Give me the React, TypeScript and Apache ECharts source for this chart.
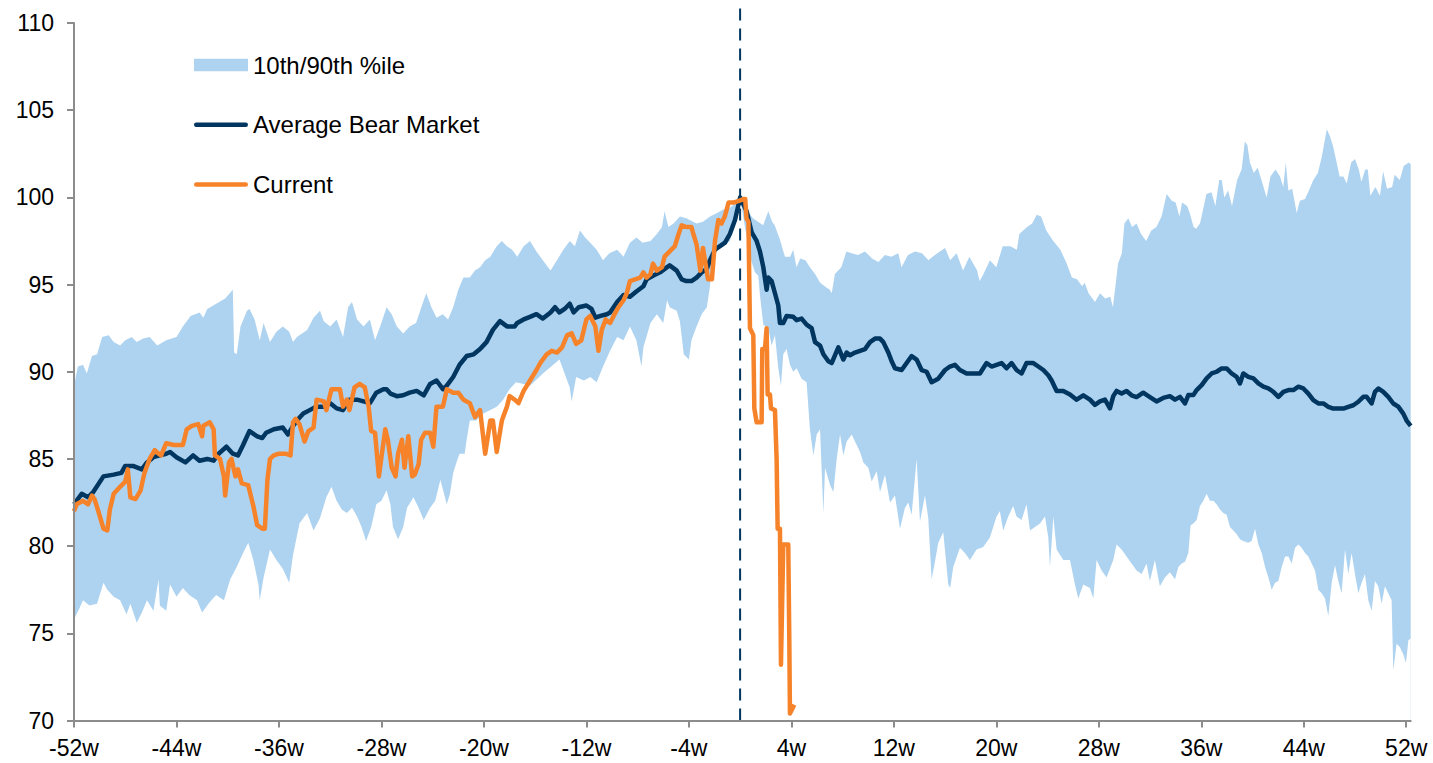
import React, { useEffect, useRef } from "react";
import * as echarts from "echarts";

const FONT = "'Liberation Sans', Arial, Helvetica, sans-serif";
const BAND = "#aed3f0";
const NAVY = "#003660";
const ORANGE = "#f6832a";
const AXIS = "#8c8c8c";

const xTickWeeks = [-52, -44, -36, -28, -20, -12, -4, 4, 12, 20, 28, 36, 44, 52];
const yMin = 70;
const yMax = 110;
const yStep = 5;
const peakWeek = 0;
const legendNames = ["10th/90th %ile", "Average Bear Market", "Current"];

const upperBand: [number, number][] = [
  [-52, 89.2], [-51.7, 90.3], [-51.3, 90.4], [-51.0, 89.9], [-50.6, 90.9], [-50.2, 91.0], [-49.8, 92.0], [-49.3, 92.1], [-48.9, 91.7], [-48.4, 91.5], [-48.0, 91.8], [-47.5, 92.0], [-47.1, 91.7], [-46.6, 91.9], [-46.1, 92.0], [-45.5, 91.5], [-44.8, 91.8], [-44.0, 92.0], [-43.5, 92.6], [-42.9, 93.2], [-42.2, 93.4], [-41.9, 93.1], [-41.6, 93.6], [-40.9, 93.9], [-40.2, 94.2], [-39.6, 94.7], [-39.5, 91.1], [-39.3, 91.0], [-39.0, 92.6], [-38.5, 93.5], [-38.3, 93.6], [-37.9, 93.0], [-37.5, 91.8], [-37.2, 92.8], [-36.7, 91.7], [-36.2, 92.3], [-35.7, 92.6], [-35.2, 92.3], [-34.9, 91.7],
  [-34.6, 92.0], [-33.8, 92.4], [-33.3, 93.1], [-32.8, 93.5], [-32.5, 92.9], [-32.0, 92.6], [-31.5, 93.0], [-31.0, 92.0], [-30.6, 93.7], [-30.3, 94.0], [-29.9, 93.0], [-29.4, 92.6], [-28.9, 93.0], [-28.5, 91.8], [-28.1, 92.6], [-27.6, 93.7], [-27.2, 93.3], [-26.8, 92.6], [-26.3, 92.2], [-25.8, 92.6], [-25.3, 92.8], [-24.7, 94.1], [-24.5, 94.5], [-24.1, 93.7], [-23.7, 93.1], [-23.2, 93.3], [-22.8, 93.0], [-22.4, 93.7], [-22.0, 94.7], [-21.6, 95.4], [-21.1, 95.4], [-20.7, 95.8], [-20.3, 96.0], [-19.9, 96.4], [-19.5, 96.6], [-19.0, 97.2], [-18.6, 97.5], [-18.2, 97.2], [-17.8, 97.0],
  [-17.4, 96.6], [-16.9, 97.2], [-16.4, 97.5], [-15.9, 96.9], [-15.4, 96.4], [-14.8, 95.8], [-14.3, 96.4], [-13.8, 97.0], [-13.3, 97.5], [-12.9, 97.2], [-12.5, 98.1], [-12.1, 97.7], [-11.7, 97.4], [-11.2, 97.0], [-10.7, 96.4], [-10.2, 96.8], [-9.6, 97.0], [-9.1, 96.6], [-8.6, 97.4], [-8.1, 97.7], [-7.6, 97.4], [-7.0, 97.5], [-6.5, 97.9], [-6.1, 98.3], [-5.9, 99.2], [-5.6, 98.3], [-5.2, 98.5], [-4.7, 98.9], [-4.2, 98.8], [-3.4, 98.5], [-2.9, 98.6], [-2.35, 98.9], [-1.8, 99.1], [-1.3, 99.3], [-0.8, 99.4], [-0.3, 99.7], [0, 100],
  [0.1, 99.7], [0.6, 99.2], [1.0, 98.8], [1.4, 98.6], [1.8, 98.4], [2.1, 99.0], [2.2, 99.2], [2.5, 98.6], [2.7, 98.4], [3.1, 97.6], [3.5, 96.6], [3.9, 96.6], [4.15, 97.0], [4.4, 96.0], [4.7, 96.5], [5.1, 96.4], [5.45, 96.0], [5.85, 95.6], [6.25, 95.1], [6.6, 94.9], [7.0, 94.7], [7.15, 94.5], [7.4, 95.6], [7.9, 96.0], [8.3, 96.9], [8.7, 96.8], [9.2, 96.7], [9.75, 96.9], [10.3, 96.5], [10.8, 96.3], [11.3, 96.7], [11.8, 96.6], [12.35, 96.8], [12.6, 96.0], [13.1, 96.7], [13.65, 96.9], [14.2, 96.8], [14.7, 96.4], [15.2, 96.7], [16.0, 97.1], [16.4, 96.4],
  [16.9, 96.8], [17.4, 95.8], [17.9, 96.6], [18.5, 95.8], [18.7, 95.2], [19.0, 95.6], [19.5, 96.4], [20.0, 96.0], [20.5, 97.2], [21.1, 97.2], [21.6, 97.0], [21.8, 97.9], [22.4, 98.3], [22.8, 98.5], [23.15, 99.0], [23.5, 98.9], [23.9, 98.1], [24.45, 97.5], [25.0, 97.0], [25.5, 96.2], [25.9, 95.4], [26.3, 95.3], [26.7, 94.9], [26.9, 95.1], [27.2, 94.5], [27.4, 94.3], [27.7, 94.0], [28.1, 94.5], [28.5, 94.2], [28.9, 94.3], [29.1, 93.7], [29.3, 94.9], [29.5, 96.2], [29.8, 96.8], [30.0, 98.5], [30.3, 98.8], [30.6, 98.3], [30.95, 98.5], [31.3, 97.9], [31.7, 97.5], [32.1, 98.1], [32.5, 98.3], [32.9, 98.9], [33.3, 100.2], [33.7, 99.8],
  [34.0, 99.7], [34.3, 98.9], [34.5, 99.7], [34.9, 99.5], [35.1, 99.1], [35.4, 98.3], [35.6, 98.2], [35.9, 98.5], [36.2, 99.5], [36.4, 100.2], [36.8, 100.3], [37.1, 99.5], [37.4, 101.0], [37.6, 101.0], [37.8, 100.0], [38.1, 100.4], [38.4, 99.5], [38.8, 101.0], [39.15, 101.6], [39.4, 103.2], [39.6, 103.0], [39.8, 102.0], [40.1, 101.4], [40.4, 101.7], [40.7, 101.0], [41.1, 100.0], [41.4, 101.2], [41.8, 101.6], [42.15, 101.2], [42.4, 100.6], [42.6, 102.0], [42.8, 100.4], [43.1, 100.5], [43.45, 99.1], [43.7, 99.8], [44.1, 99.9], [44.4, 100.4], [44.75, 101.0], [45.1, 101.4], [45.4, 102.3], [45.7, 103.5], [45.8, 103.9], [46.05, 103.5], [46.3, 102.9], [46.6, 101.9], [46.8, 101.2], [47.1, 101.2], [47.35, 100.8], [47.7, 102.0], [48.0, 102.2], [48.3, 101.6], [48.5, 100.9], [48.8, 101.6], [49.0, 101.6], [49.2, 100.1], [49.6, 100.6], [49.95, 100.1], [50.2, 101.5], [50.5, 100.5], [50.9, 100.6], [51.1, 101.3], [51.5, 101.0], [51.8, 101.8], [52.2, 102.0], [52.35, 101.9],
];

const lowerBand: [number, number][] = [
  [-52, 75.8], [-51.6, 76.4], [-51.3, 76.9], [-50.8, 76.6], [-50.2, 76.7], [-49.7, 77.9], [-49.4, 77.5], [-48.9, 77.1], [-48.4, 76.9], [-47.9, 76.1], [-47.6, 76.7], [-47.1, 75.6], [-46.7, 76.2], [-46.3, 76.9], [-45.8, 76.3], [-45.4, 78.1], [-45.3, 76.6], [-44.8, 76.3], [-44.5, 77.8], [-44.0, 77.1], [-43.5, 77.6], [-43.0, 77.2], [-42.4, 76.9], [-42.0, 76.2], [-41.4, 76.8], [-40.9, 77.2], [-40.3, 76.9], [-39.8, 78.1], [-39.3, 78.8], [-38.8, 79.6], [-38.4, 80.2], [-38.0, 79.2], [-37.6, 77.8], [-37.5, 76.9], [-37.2, 78.2], [-36.7, 79.8], [-36.2, 79.2], [-35.7, 78.7], [-35.2, 77.9], [-34.9, 79.5],
  [-34.4, 81.3], [-33.8, 81.9], [-33.3, 80.9], [-32.8, 81.6], [-32.3, 82.8], [-31.9, 83.4], [-31.5, 82.6], [-31.1, 82.1], [-30.7, 81.9], [-30.3, 82.2], [-29.9, 81.7], [-29.55, 81.1], [-29.2, 80.3], [-28.8, 81.1], [-28.4, 82.4], [-28.0, 82.6], [-27.6, 83.2], [-27.3, 82.4], [-27.1, 81.1], [-26.7, 80.4], [-26.3, 81.1], [-26.0, 82.2], [-25.5, 82.8], [-25.1, 82.2], [-24.7, 81.5], [-24.2, 82.2], [-23.8, 82.6], [-23.4, 83.8], [-22.9, 82.4], [-22.65, 83.0], [-22.4, 84.2], [-22.1, 84.9], [-21.9, 85.3], [-21.5, 85.3], [-21.35, 86.1], [-21.1, 87.2], [-20.6, 87.2], [-20.05, 87.6], [-19.5, 87.8], [-19.0, 88.0], [-18.5, 88.4], [-18.0, 89.0],
  [-17.5, 89.4], [-16.9, 89.3], [-16.4, 89.2], [-15.4, 89.9], [-14.1, 90.7], [-13.3, 89.1], [-13.15, 88.3], [-12.8, 89.7], [-12.2, 89.5], [-11.7, 89.7], [-11.2, 89.4], [-10.7, 90.3], [-10.15, 91.2], [-9.6, 92.0], [-9.1, 91.8], [-8.6, 92.6], [-8.1, 91.8], [-7.7, 90.3], [-7.55, 91.4], [-7.0, 92.8], [-6.5, 93.3], [-6.0, 92.8], [-5.7, 94.1], [-5.5, 93.7], [-4.95, 93.5], [-4.7, 92.9], [-4.4, 91.0], [-4.0, 90.7], [-3.8, 91.8], [-3.4, 92.6], [-3.0, 93.3], [-2.6, 93.7], [-2.35, 94.9], [-2.2, 96.6], [-1.8, 97.0], [-1.3, 97.2], [-0.8, 97.5], [-0.3, 98.9], [0, 100],
  [0.4, 98.2], [0.9, 96.3], [1.16, 95.7], [1.42, 95.5], [1.55, 94.4], [1.81, 92.7], [2.2, 92.5], [2.46, 91.5], [2.72, 92.1], [2.98, 90.2], [3.19, 89.2], [3.37, 91.0], [3.63, 91.3], [3.89, 90.4], [4.15, 90.0], [4.41, 90.2], [4.8, 89.6], [5.19, 89.4], [5.45, 86.7], [5.72, 85.2], [5.98, 86.4], [6.24, 86.7], [6.5, 81.9], [6.63, 84.5], [7.02, 83.5], [7.28, 83.1], [7.54, 85.0], [7.8, 86.4], [8.06, 85.2], [8.32, 86.0], [8.71, 86.4], [9.1, 85.8], [9.36, 85.4], [9.62, 84.8], [10.01, 84.5], [10.27, 83.7], [10.66, 84.3], [10.92, 83.1], [11.31, 84.1], [11.7, 82.5], [12.09, 82.9], [12.48, 81.0], [12.87, 82.2], [13.13, 82.5], [13.39, 81.8], [13.78, 85.0], [14.04, 81.4], [14.43, 82.9], [14.69, 81.6], [14.95, 78.1], [15.21, 79.1], [15.47, 80.2], [15.86, 80.8], [16.25, 77.8], [16.4, 77.6], [16.64, 78.8],
  [17.16, 79.9], [17.55, 79.6], [17.94, 79.2], [18.46, 79.8], [18.98, 79.95], [19.5, 80.5], [20.02, 81.7], [20.28, 82.0], [20.54, 80.9], [20.93, 81.7], [21.32, 82.3], [21.58, 81.7], [21.97, 81.5], [22.36, 82.4], [22.63, 80.9], [23.02, 81.1], [23.41, 81.3], [23.8, 81.7], [24.06, 80.5], [24.19, 78.8], [24.45, 81.7], [24.71, 79.8], [25.23, 79.2], [25.75, 79.2], [26.14, 77.8], [26.4, 77.0], [26.79, 77.8], [27.31, 77.6], [27.57, 77.0], [27.83, 79.2], [28.22, 78.6], [28.61, 78.2], [29.13, 79.2], [29.39, 80.1], [29.78, 79.8], [30.17, 79.4], [30.56, 79.0], [30.95, 78.6], [31.34, 78.4], [31.73, 79.0], [31.99, 78.0], [32.38, 79.2], [32.77, 77.7], [33.16, 78.2], [33.55, 78.5],
  [33.95, 78.1], [34.21, 78.8], [34.47, 79.0], [34.73, 79.1], [34.99, 79.6], [35.17, 81.2], [35.38, 81.3], [35.64, 81.5], [35.9, 82.3], [36.16, 82.6], [36.42, 83.0], [36.68, 82.6], [36.94, 82.6], [37.2, 82.4], [37.46, 82.1], [37.72, 81.9], [37.98, 81.8], [38.24, 81.1], [38.5, 80.9], [38.76, 80.7], [39.02, 80.4], [39.28, 80.3], [39.67, 80.2], [39.93, 80.3], [40.2, 81.0], [40.46, 80.1], [40.72, 79.6], [40.98, 78.8], [41.24, 78.2], [41.5, 77.5], [41.76, 77.9], [42.02, 78.0], [42.28, 78.8], [42.54, 79.4], [42.8, 79.4], [43.06, 79.0], [43.32, 79.9], [43.58, 80.1], [43.84, 79.9], [44.1, 79.6], [44.36, 79.4], [44.62, 79.0], [44.88, 78.6], [45.14, 77.5], [45.4, 77.3], [45.66, 77.0], [45.92, 76.0], [46.18, 77.9], [46.44, 78.9], [46.7, 78.0], [46.96, 77.3], [47.22, 79.8], [47.48, 78.4], [47.74, 79.6], [48.0, 78.4], [48.26, 77.3], [48.52, 77.9], [48.78, 78.4], [49.04, 76.9], [49.3, 76.3], [49.56, 78.0], [49.82, 77.7], [50.08, 76.7], [50.34, 77.7], [50.6, 77.3], [50.86, 76.9], [50.99, 72.9], [51.25, 74.4], [51.51, 74.2], [51.77, 73.8], [51.98, 73.3], [52.17, 74.6], [52.35, 74.7],
];

const averageBear: [number, number][] = [
  [-52, 82.4], [-51.4, 83.0], [-50.9, 82.8], [-50.5, 83.1], [-49.7, 84.0], [-48.9, 84.1], [-48.3, 84.2], [-48.0, 84.6], [-47.4, 84.6], [-46.7, 84.4], [-46.3, 84.8], [-45.8, 85.1], [-45.3, 85.2], [-44.8, 85.3], [-44.5, 85.4], [-44.0, 85.1], [-43.3, 84.8], [-42.7, 85.2], [-42.2, 84.9], [-41.6, 85.0], [-41.1, 84.9], [-40.7, 85.3], [-40.1, 85.7], [-39.6, 85.3], [-39.2, 85.2], [-38.8, 85.8], [-38.3, 86.6], [-37.7, 86.3], [-37.3, 86.2], [-37.0, 86.5], [-36.4, 86.7], [-35.7, 86.8], [-35.3, 86.4], [-34.9, 86.9], [-34.6, 87.2], [-34.1, 87.6], [-33.6, 87.8], [-33.1, 88.0], [-32.5, 88.0], [-32.0, 88.2], [-31.5, 87.9], [-31.0, 87.8], [-30.5, 88.4], [-29.9, 88.4], [-29.4, 88.3], [-28.9, 88.2], [-28.4, 88.8], [-27.85, 89.0], [-27.6, 89.0], [-27.3, 88.75], [-26.8, 88.6], [-26.3, 88.65], [-25.8, 88.8], [-25.25, 88.9], [-24.7, 88.65], [-24.2, 89.3], [-23.7, 89.5], [-23.2, 89.0], [-22.9, 89.2], [-22.4, 89.7], [-21.9, 90.4], [-21.35, 90.9], [-20.8, 91.0], [-20.3, 91.3], [-19.8, 91.7], [-19.3, 92.4], [-18.75, 92.9], [-18.2, 92.6], [-17.6, 92.6],
  [-17.4, 92.8], [-16.9, 93.0], [-16.4, 93.15], [-15.9, 93.3], [-15.4, 93.05], [-14.8, 93.4], [-14.45, 93.7], [-14.1, 93.4], [-13.7, 93.6], [-13.3, 93.9], [-13.0, 93.4], [-12.6, 93.7], [-12.0, 93.8], [-11.6, 93.6], [-11.3, 93.1], [-10.9, 93.2], [-10.4, 93.3], [-10.15, 93.4], [-9.6, 94.0], [-9.1, 94.4], [-8.6, 94.3], [-8.1, 94.6], [-7.55, 94.9], [-7.3, 95.3], [-6.8, 95.5], [-6.25, 95.7], [-5.7, 96.0], [-5.5, 96.1], [-4.95, 95.8], [-4.56, 95.3], [-4.2, 95.2], [-3.8, 95.2], [-3.4, 95.4], [-3.0, 95.7], [-2.6, 95.9], [-2.35, 96.4], [-1.96, 97.0], [-1.57, 97.2], [-1.18, 97.4], [-0.8, 97.9], [-0.4, 98.7], [-0.15, 99.5], [0, 100],
  [0.51, 99.2], [0.9, 98.0], [1.29, 97.5], [1.55, 96.9], [1.81, 96.0], [2.07, 94.7], [2.2, 95.4], [2.46, 95.2], [2.72, 94.5], [2.98, 93.8], [3.11, 92.8], [3.37, 92.8], [3.63, 93.2], [4.15, 93.15], [4.41, 92.96], [4.8, 93.05], [5.19, 92.7], [5.58, 92.5], [5.85, 91.7], [6.24, 91.5], [6.5, 91.0], [6.89, 90.6], [7.15, 90.5], [7.41, 90.95], [7.67, 91.4], [8.06, 90.7], [8.32, 91.1], [8.58, 90.95], [8.97, 91.1], [9.36, 91.2], [9.75, 91.3], [10.14, 91.7], [10.53, 91.9], [10.92, 91.9], [11.18, 91.7], [11.57, 91.1], [11.83, 90.6], [12.09, 90.2], [12.61, 90.1], [13.0, 90.5], [13.39, 90.9], [13.78, 90.7], [14.17, 90.1], [14.56, 90.0], [14.95, 89.4], [15.47, 89.6], [16.0, 90.1], [16.38, 90.3], [16.77, 90.4], [17.16, 90.1], [17.68, 89.9], [18.2, 89.9], [18.72, 89.9], [18.98, 90.2], [19.24, 90.5], [19.63, 90.3], [20.02, 90.4], [20.41, 90.5], [20.8, 90.2], [21.19, 90.5], [21.58, 90.1], [21.97, 89.9], [22.36, 90.5], [22.89, 90.5], [23.28, 90.3], [23.67, 90.1], [24.06, 89.8], [24.32, 89.5], [24.71, 88.9], [25.23, 88.9], [25.75, 88.7], [26.27, 88.4], [26.79, 88.65], [27.31, 88.4], [27.7, 88.1], [28.09, 88.3], [28.48, 88.4], [28.87, 87.9], [29.13, 88.6], [29.39, 88.9], [29.78, 88.75], [30.17, 88.9], [30.56, 88.65], [30.95, 88.55], [31.47, 88.8], [31.99, 88.55], [32.51, 88.3], [33.03, 88.5], [33.55, 88.6],
  [33.95, 88.4], [34.34, 88.56], [34.73, 88.18], [34.99, 88.66], [35.38, 88.66], [35.64, 88.95], [36.03, 89.23], [36.42, 89.62], [36.81, 89.9], [37.2, 90.0], [37.59, 90.19], [37.98, 90.19], [38.37, 89.9], [38.76, 89.71], [39.02, 89.33], [39.28, 89.9], [39.67, 89.71], [40.07, 89.62], [40.46, 89.33], [40.85, 89.14], [41.24, 89.04], [41.63, 88.85], [42.02, 88.56], [42.41, 88.85], [42.8, 88.95], [43.19, 88.95], [43.58, 89.14], [43.97, 89.04], [44.36, 88.75], [44.75, 88.37], [45.14, 88.18], [45.53, 88.18], [45.92, 87.99], [46.31, 87.89], [46.7, 87.89], [47.09, 87.89], [47.48, 87.99], [47.87, 88.08], [48.26, 88.28], [48.65, 88.56], [48.91, 88.56], [49.3, 88.18], [49.56, 88.85], [49.82, 89.04], [50.21, 88.85], [50.6, 88.56], [50.99, 88.18], [51.38, 88.0], [51.77, 87.6], [52.03, 87.2], [52.35, 86.9],
];

const current: [number, number][] = [
  [-52, 82.0], [-51.8, 82.4], [-51.3, 82.6], [-50.9, 82.4], [-50.6, 82.9], [-50.4, 82.7], [-50.1, 82.0], [-49.7, 81.0], [-49.4, 80.9], [-49.2, 82.1], [-48.9, 83.0], [-48.4, 83.4], [-48.0, 83.7], [-47.8, 84.4], [-47.6, 82.8], [-47.2, 82.7], [-46.8, 83.2], [-46.5, 84.2], [-46.1, 85.0], [-45.7, 85.5], [-45.4, 85.3], [-45.2, 85.2], [-44.8, 85.9], [-44.2, 85.8], [-43.5, 85.8], [-43.2, 86.7], [-42.8, 86.9], [-42.3, 87.0], [-42.0, 86.3], [-41.9, 86.9], [-41.4, 87.1], [-41.1, 86.7], [-41.0, 85.2], [-40.6, 85.0], [-40.3, 84.0], [-40.2, 82.9], [-39.9, 84.8], [-39.7, 85.0], [-39.4, 84.0], [-39.2, 84.4], [-38.9, 83.6], [-38.4, 83.5], [-38.0, 82.3], [-37.7, 81.2], [-37.3, 81.0], [-37.1, 81.0], [-36.9, 83.8], [-36.7, 85.0], [-36.4, 85.2], [-36.0, 85.3], [-35.5, 85.3], [-35.1, 85.2], [-34.9, 87.1], [-34.7, 87.3],
  [-34.4, 87.0], [-34.0, 86.0], [-33.7, 86.6], [-33.3, 86.8], [-33.06, 88.4], [-32.5, 88.3], [-32.3, 87.8], [-31.9, 89.0], [-31.24, 89.0], [-31.0, 88.0], [-30.7, 88.4], [-30.5, 87.8], [-30.1, 89.1], [-29.7, 89.3], [-29.3, 89.1], [-29.0, 88.0], [-28.8, 86.6], [-28.5, 86.5], [-28.2, 84.0], [-28.0, 85.1], [-27.7, 86.7], [-27.5, 86.1], [-27.2, 84.5], [-26.9, 84.0], [-26.7, 85.3], [-26.4, 86.1], [-26.2, 84.5], [-25.9, 86.3], [-25.6, 84.0], [-25.4, 84.1], [-25.1, 84.7], [-24.9, 86.1], [-24.6, 86.5], [-24.2, 86.5], [-23.95, 85.7], [-23.7, 88.0], [-23.2, 88.0], [-22.9, 89.0], [-22.4, 88.8], [-22.0, 88.8], [-21.6, 88.4], [-21.1, 88.2], [-20.7, 87.4], [-20.3, 87.8], [-19.9, 85.3], [-19.5, 87.2], [-19.3, 87.2], [-19.0, 85.4], [-18.6, 87.2], [-18.2, 88.0], [-18.0, 88.6], [-17.6, 88.4],
  [-17.3, 88.2], [-16.9, 88.9], [-16.4, 89.5], [-15.9, 90.1], [-15.6, 90.5], [-15.1, 91.0], [-14.7, 91.2], [-14.3, 91.1], [-13.9, 91.4], [-13.5, 92.1], [-13.15, 92.2], [-12.8, 91.6], [-12.4, 91.8], [-12.0, 93.0], [-11.7, 93.2], [-11.3, 92.6], [-11.06, 91.2], [-10.8, 92.4], [-10.5, 93.0], [-10.15, 92.8], [-9.8, 93.3], [-9.5, 93.7], [-9.1, 94.1], [-8.85, 94.5], [-8.6, 95.2], [-8.2, 95.3], [-7.8, 95.4], [-7.55, 95.7], [-7.3, 95.4], [-7.0, 95.6], [-6.8, 96.2], [-6.5, 95.8], [-6.1, 96.0], [-5.9, 96.6], [-5.5, 96.9], [-5.1, 97.2], [-4.8, 97.9], [-4.56, 98.4], [-4.2, 98.3], [-3.8, 98.3], [-3.65, 97.9], [-3.4, 97.3], [-3.1, 95.8], [-2.9, 97.1], [-2.7, 96.2], [-2.5, 95.3], [-2.2, 95.3], [-1.96, 97.5], [-1.7, 98.7], [-1.45, 98.5], [-1.2, 98.9], [-0.9, 99.7], [-0.5, 99.7], [-0.1, 99.8], [0.25, 99.9],
  [0.4, 99.9], [0.5, 98.8], [0.65, 98.6], [0.77, 92.5], [1.03, 92.1], [1.11, 87.9], [1.29, 87.1], [1.68, 87.1], [1.73, 91.3], [1.94, 91.3], [2.07, 92.5], [2.15, 88.7], [2.33, 88.7], [2.41, 87.9], [2.72, 87.8], [2.85, 85.0], [2.93, 81.0], [3.11, 81.0], [3.19, 73.2], [3.37, 80.1], [3.76, 80.1], [3.84, 74.7], [3.89, 70.4], [4.23, 70.9],
];

const X_MIN = -52;
const X_MAX = 52.35;
const LINE_ICON = "path://M2.3,0H52.7A2.3,2.3 0 0 1 52.7,4.6H2.3A2.3,2.3 0 0 1 2.3,0Z";

export default function App() {
  const ref = useRef<HTMLDivElement>(null);

  useEffect(() => {
    if (!ref.current) return;
    const chart = echarts.init(ref.current, null, { renderer: "svg" });
    const gridBox = { left: 74, right: 22.3, bottom: 42.5 };
    chart.setOption({
      animation: false,
      backgroundColor: "#ffffff",
      textStyle: { fontFamily: FONT },
      grid: [
        { ...gridBox, top: 23 },
        { ...gridBox, top: 5 },
      ],
      xAxis: [
        {
          type: "value",
          gridIndex: 0,
          min: X_MIN,
          max: X_MAX,
          z: 10,
          axisLine: { show: true, onZero: false, lineStyle: { color: AXIS, width: 2 } },
          axisTick: { show: true, customValues: xTickWeeks, length: 7, lineStyle: { color: AXIS, width: 2 } },
          axisLabel: {
            show: true,
            customValues: xTickWeeks,
            formatter: (v: number) => `${v}w`,
            color: "#000",
            fontSize: 23,
            margin: 16,
            fontFamily: FONT,
          },
          splitLine: { show: false },
        },
        { type: "value", gridIndex: 1, min: X_MIN, max: X_MAX, show: false },
      ],
      yAxis: [
        {
          type: "value",
          gridIndex: 0,
          min: yMin,
          max: yMax,
          interval: yStep,
          z: 10,
          axisLine: { show: true, onZero: false, lineStyle: { color: AXIS, width: 2 } },
          axisTick: { show: true, length: 7, lineStyle: { color: AXIS, width: 2 } },
          axisLabel: { color: "#000", fontSize: 23, margin: 20, fontFamily: FONT },
          splitLine: { show: false },
        },
        { type: "value", gridIndex: 1, min: 0, max: 1, show: false },
      ],
      legend: {
        orient: "vertical",
        left: 189,
        top: 48,
        itemWidth: 54,
        itemHeight: 24,
        itemGap: 35.7,
        selectedMode: false,
        itemStyle: { borderWidth: 0 },
        textStyle: { fontSize: 24, color: "#000", fontFamily: FONT, lineHeight: 24 },
        data: [
          { name: legendNames[0], icon: "path://M0,0H52V12H0Z", itemStyle: { color: BAND, borderWidth: 0 } },
          { name: legendNames[1], icon: LINE_ICON, itemStyle: { color: NAVY, borderWidth: 0 } },
          { name: legendNames[2], icon: LINE_ICON, itemStyle: { color: ORANGE, borderWidth: 0 } },
        ],
      },
      series: [
        {
          name: legendNames[0],
          type: "line",
          xAxisIndex: 0,
          yAxisIndex: 0,
          data: upperBand,
          symbol: "none",
          color: BAND,
          itemStyle: { color: BAND },
          lineStyle: { width: 0, color: BAND },
          areaStyle: { color: BAND, opacity: 1, origin: "start" },
          z: 1,
          silent: true,
        },
        {
          name: "lower",
          type: "line",
          xAxisIndex: 0,
          yAxisIndex: 0,
          data: lowerBand,
          symbol: "none",
          color: "#ffffff",
          lineStyle: { width: 0, color: "#ffffff" },
          areaStyle: { color: "#ffffff", opacity: 1, origin: "start" },
          z: 1,
          silent: true,
        },
        {
          name: "peak",
          type: "line",
          xAxisIndex: 1,
          yAxisIndex: 1,
          data: [[peakWeek, 0], [peakWeek, 1]],
          symbol: "none",
          lineStyle: { color: NAVY, width: 2, type: [12, 8] },
          z: 3,
          silent: true,
        },
        {
          name: legendNames[1],
          type: "line",
          xAxisIndex: 0,
          yAxisIndex: 0,
          data: averageBear,
          symbol: "none",
          color: NAVY,
          lineStyle: { color: NAVY, width: 4.5, join: "round" },
          z: 4,
        },
        {
          name: legendNames[2],
          type: "line",
          xAxisIndex: 0,
          yAxisIndex: 0,
          data: current,
          symbol: "none",
          color: ORANGE,
          lineStyle: { color: ORANGE, width: 4.5, join: "round" },
          z: 5,
        },
      ],
    });
    return () => chart.dispose();
  }, []);

  return (
    <div
      ref={ref}
      style={{ position: "fixed", left: 0, top: 0, width: 1433, height: 763, background: "#ffffff" }}
    />
  );
}
